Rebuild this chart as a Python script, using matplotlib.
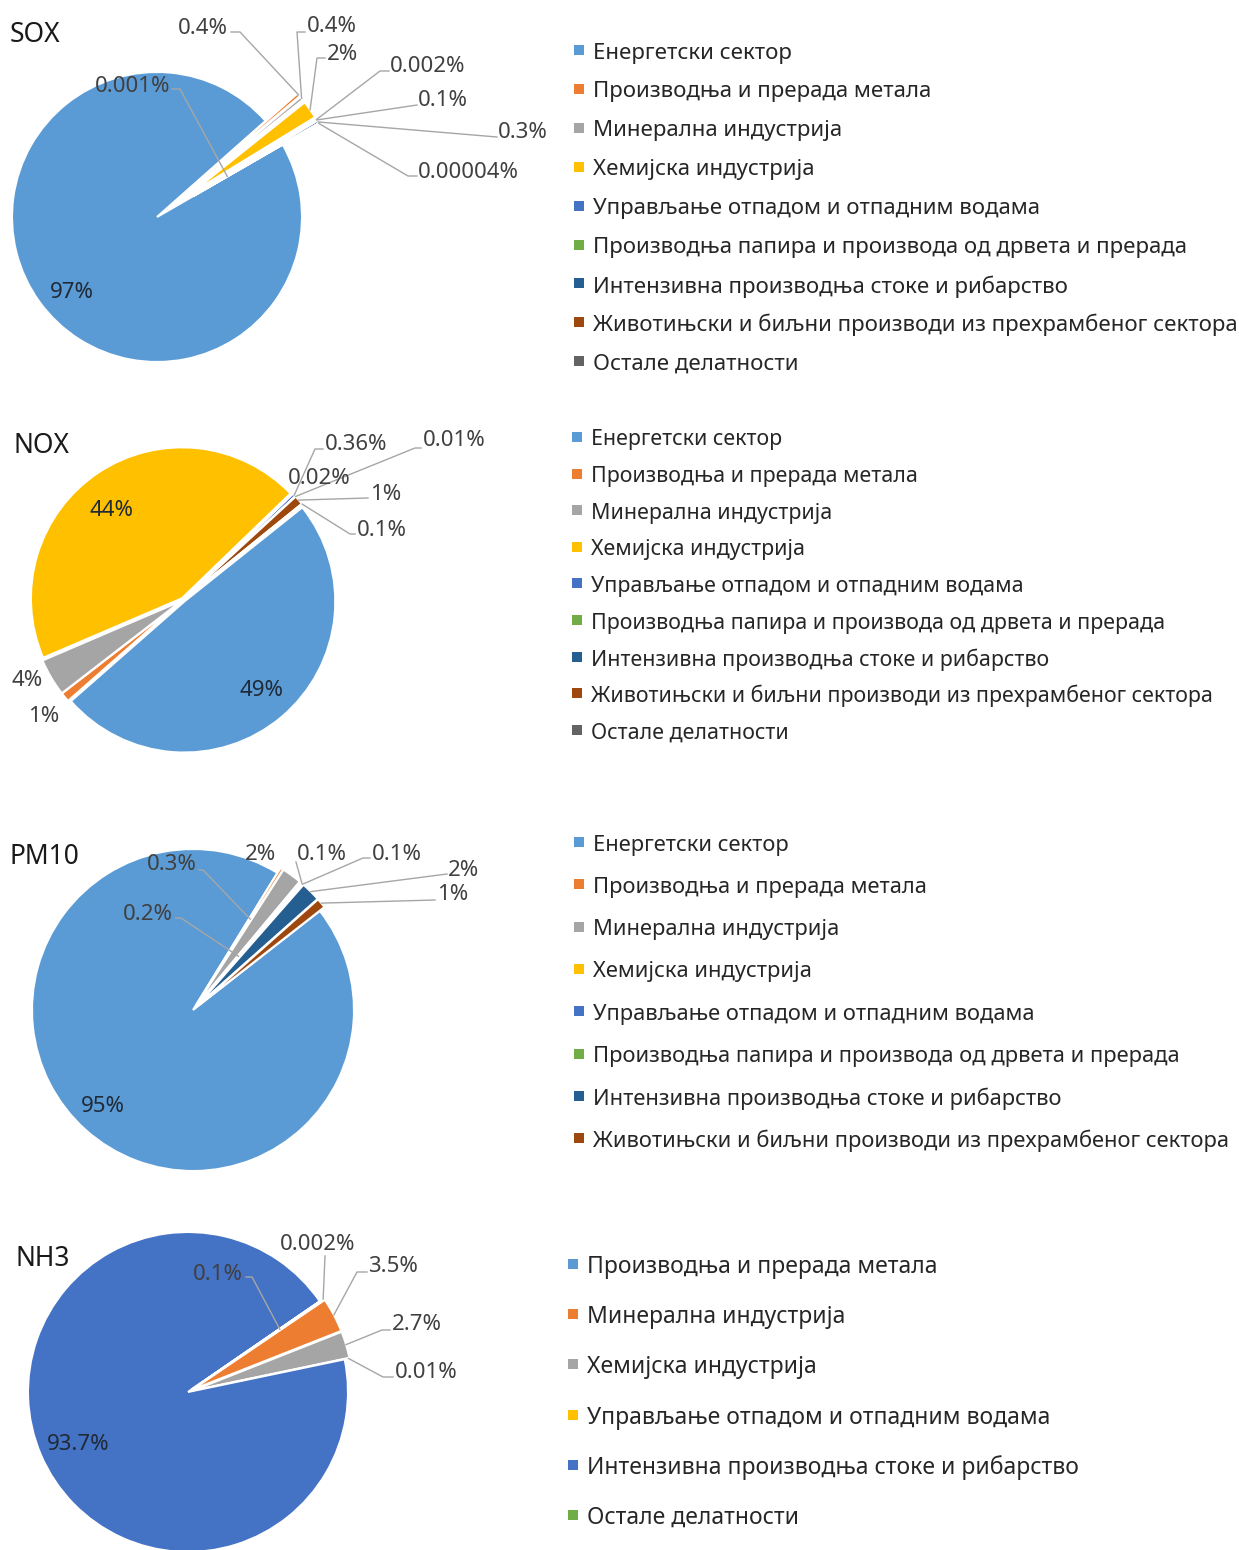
# Emission shares by sector - four pie charts (SOX, NOX, PM10, NH3)

import numpy as np
import matplotlib.pyplot as plt

plt.rcParams['font.family'] = ['Noto Sans', 'DejaVu Sans']

W, H = 1239, 1550
TXT_SHIFT = 3  # texts sit a few px lower than their bbox centre

# -----------------------------------
# Data
# -----------------------------------
sectors = [
    'Енергетски сектор',
    'Производња и прерада метала',
    'Минерална индустрија',
    'Хемијска индустрија',
    'Управљање отпадом и отпадним водама',
    'Производња папира и производа од дрвета и прерада',
    'Интензивна производња стоке и рибарство',
    'Животињски и биљни производи из прехрамбеног сектора',
    'Остале делатности',
]
sector_colors = ['#5B9BD5', '#ED7D31', '#A5A5A5', '#FFC000', '#4472C4',
                 '#70AD47', '#255E91', '#9E480E', '#636363']

sox_values = [97, 0.4, 0.4, 2, 0.002, 0.1, 0.3, 0.00004, 0.001]
sox_text = ['97%', '0.4%', '0.4%', '2%', '0.002%', '0.1%', '0.3%', '0.00004%', '0.001%']

nox_values = [49, 1, 4, 44, 0.36, 0.02, 0.01, 1, 0.1]
nox_text = ['49%', '1%', '4%', '44%', '0.36%', '0.02%', '0.01%', '1%', '0.1%']

pm10_values = [95, 0.3, 2, 0.2, 0.1, 0.1, 2, 1]
pm10_text = ['95%', '0.3%', '2%', '0.2%', '0.1%', '0.1%', '2%', '1%']

nh3_sectors = [
    'Производња и прерада метала',
    'Минерална индустрија',
    'Хемијска индустрија',
    'Управљање отпадом и отпадним водама',
    'Интензивна производња стоке и рибарство',
    'Остале делатности',
]
nh3_colors = ['#5B9BD5', '#ED7D31', '#A5A5A5', '#FFC000', '#4472C4', '#70AD47']
nh3_values = [0.1, 3.5, 2.7, 0.01, 93.7, 0.002]
nh3_text = ['0.1%', '3.5%', '2.7%', '0.01%', '93.7%', '0.002%']

# -----------------------------------
# Layout (image pixels, y measured from top)
# label: (x, y, ha, leader) ; leader = (lx, ly, elbow_x, radius_frac) or None
# -----------------------------------
panels = [
    dict(title='SOX', title_xy=(10, 32), center=(157, 217), r=145, start=30,
         values=sox_values, text=sox_text, names=sectors, colors=sector_colors,
         explode=[0, 42, 42, 42, 42, 42, 42, 42, 42],
         labels=[(72, 289, 'center', None),
                 (228, 25, 'right', (231, 32, 240, 1.0)),
                 (307, 23, 'left', (305, 32, 297, 1.0)),
                 (327, 51, 'left', (325, 58, 317, 1.0)),
                 (390, 64, 'left', (389, 71, 380, 1.0)),
                 (418, 98, 'left', (417, 105, 417, 1.0)),
                 (498, 130, 'left', (497, 137, 497, 1.0)),
                 (418, 169, 'left', (417, 176, 408, 1.0)),
                 (170, 83, 'right', (172, 89, 180, 0.27))],
         leg_x=579, leg_y0=50, leg_dy=38.9, leg_fs=16),
    dict(title='NOX', title_xy=(13, 443), center=(183, 600), r=151, start=38.6,
         values=nox_values, text=nox_text, names=sectors, colors=sector_colors,
         explode=[2, 2, 2, 2, 2, 2, 2, 2, 2],
         labels=[(262, 687, 'center', None),
                 (44, 713, 'center', None),
                 (27, 678, 'center', None),
                 (111, 507, 'center', None),
                 (325, 442, 'left', (323, 449, 315, 1.0)),
                 (288, 475, 'left', None),
                 (423, 437, 'left', (421, 448, 415, 1.0)),
                 (370, 491, 'left', (368, 498, 368, 1.0)),
                 (357, 527, 'left', (355, 534, 350, 1.0))],
         leg_x=577, leg_y0=437, leg_dy=36.6, leg_fs=15.4),
    dict(title='PM10', title_xy=(10, 854), center=(193, 1010), r=161, start=38,
         values=pm10_values, text=pm10_text, names=sectors[:8], colors=sector_colors[:8],
         explode=[0, 6, 6, 6, 6, 6, 6, 6],
         labels=[(103, 1103, 'center', None),
                 (197, 862, 'right', (199, 870, 203, 0.63)),
                 (260, 851, 'center', None),
                 (173, 911, 'right', (176, 918, 181, 0.4)),
                 (297, 851, 'left', (296, 862, 296, 1.0)),
                 (372, 851, 'left', (370, 858, 363, 1.0)),
                 (448, 867, 'left', (447, 874, 447, 1.0)),
                 (437, 892, 'left', (435, 900, 435, 1.0))],
         leg_x=579, leg_y0=842, leg_dy=42.3, leg_fs=15.8),
    dict(title='NH3', title_xy=(15, 1256), center=(188, 1392), r=160, start=34.5,
         values=nh3_values, text=nh3_text, names=nh3_sectors, colors=nh3_colors,
         explode=[4, 5, 5, 4, 0, 4],
         labels=[(243, 1271, 'right', (246, 1277, 252, 0.67)),
                 (368, 1264, 'left', (367, 1272, 357, 1.0)),
                 (392, 1322, 'left', (390, 1330, 382, 1.0)),
                 (395, 1369, 'left', (393, 1377, 383, 1.0)),
                 (78, 1442, 'center', None),
                 (318, 1241, 'center', (325, 1256, 325, 1.0))],
         leg_x=573, leg_y0=1264, leg_dy=50.2, leg_fs=16.5),
]

inner_color = '#1F2A36'
outer_color = '#404040'
line_color = '#A6A6A6'

fig = plt.figure(figsize=(W / 100, H / 100), dpi=100)
ax = fig.add_axes([0, 0, 1, 1])

for p in panels:
    cx, cy = p['center']
    wedges, _ = ax.pie(p['values'], colors=p['colors'], explode=p['explode'],
                       center=(cx, H - cy), radius=p['r'], startangle=p['start'],
                       counterclock=False,
                       wedgeprops=dict(edgecolor='white', linewidth=1.5))

    # percentage labels with leader lines
    for w, txt, (tx, ty, ha, leader) in zip(wedges, p['text'], p['labels']):
        inside = leader is None and txt in ('97%', '49%', '44%', '95%', '93.7%')
        ax.text(tx, H - ty - TXT_SHIFT, txt, ha=ha, va='center', fontsize=16,
                color=inner_color if inside else outer_color)
        if leader is not None:
            lx, ly, ex, rf = leader
            mid = np.deg2rad((w.theta1 + w.theta2) / 2)
            px = w.center[0] + w.r * rf * np.cos(mid)
            py = w.center[1] + w.r * rf * np.sin(mid)
            ax.plot([lx, ex, px], [H - ly, H - ly, py], color=line_color, lw=1)

    # title
    ax.text(p['title_xy'][0], H - p['title_xy'][1] - TXT_SHIFT, p['title'],
            ha='left', va='center', fontsize=19, color='#1a1a1a')

    # legend
    for i, (name, col) in enumerate(zip(p['names'], p['colors'])):
        y = H - (p['leg_y0'] + i * p['leg_dy'])
        ax.scatter([p['leg_x']], [y], marker='s', s=52, color=col, linewidths=0)
        ax.text(p['leg_x'] + 14, y - TXT_SHIFT, name, ha='left', va='center',
                fontsize=p['leg_fs'], color='#262626')

ax.set_xlim(0, W)
ax.set_ylim(0, H)
ax.axis('off')

plt.savefig('out.png', dpi=100, facecolor='white')
plt.close()
